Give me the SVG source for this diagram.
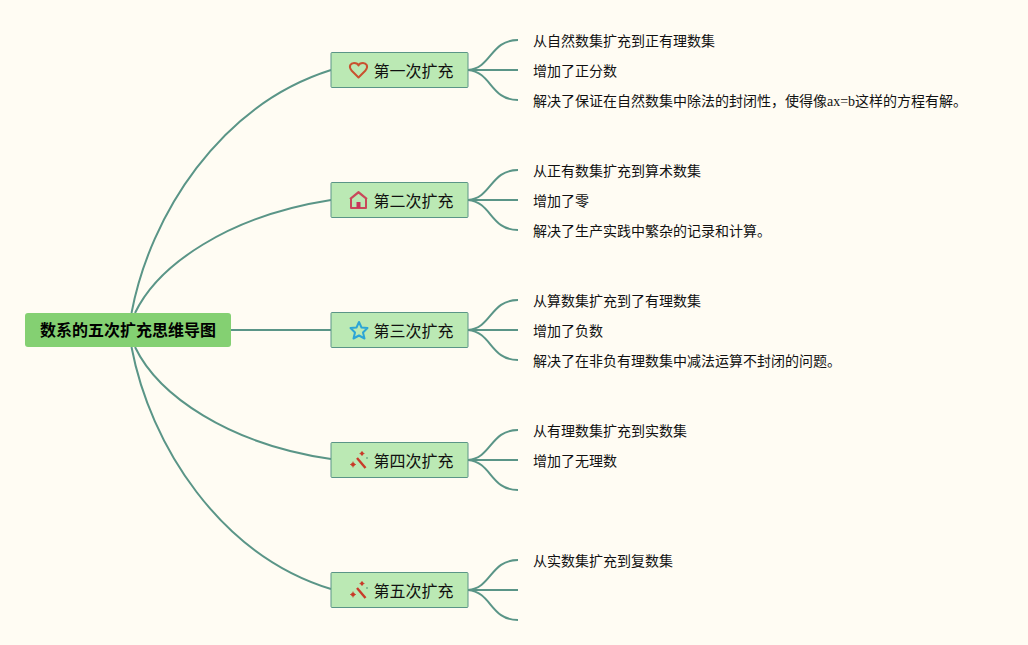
<svg xmlns="http://www.w3.org/2000/svg" width="1028" height="645" viewBox="0 0 1028 645">
<style>
text{font-family:"Liberation Serif","Noto Sans CJK SC",serif;fill:#111}
.leaf{font-size:14px}
.t{font-size:16px}
.root{font-size:16px;font-weight:700;font-family:"Noto Sans CJK SC",sans-serif;fill:#000}
.box{fill:#bbe9b4;stroke:#5a9587;stroke-width:1}
.c{fill:none;stroke:#5a9587;stroke-width:2}
.i{fill:none;stroke-width:2;stroke-linejoin:round}
</style>
<defs>
<g id="wand"><path d="M-2 -3L6.500 7" fill="none" stroke="#c93a2a" stroke-width="2.400"/><circle cx="3" cy="-7.500" r="1.700" fill="#c93a2a"/><circle cx="-6" cy="3.500" r="2" fill="#c93a2a"/><path d="M-9 3.500H-3M-6 0.500V6.500M3 -10V-5M0.500 -7.500H5.500" stroke="#c93a2a" stroke-width="0.800"/><circle cx="8" cy="-3" r="0.800" fill="#3a8a6a"/></g>
</defs>
<rect width="1028" height="645" fill="#fffcf3"/>
<g id="connectors">
<path class="c" d="M131.500 313C150 215 220 105 331 70"/>
<path class="c" d="M135 313C158 265 228 216 331 200"/>
<path class="c" d="M231 330H331"/>
<path class="c" d="M135 347C158 395 228 444 331 459"/>
<path class="c" d="M131.500 347C150 445 220 555 331 589"/>
<path class="c" d="M468 70C492 68 490 40 518 40M468 70H518M468 70C492 72 490 100 518 100"/>
<path class="c" d="M468 200C492 198 490 170 518 170M468 200H518M468 200C492 202 490 230 518 230"/>
<path class="c" d="M468 330C492 328 490 300 518 300M468 330H518M468 330C492 332 490 360 518 360"/>
<path class="c" d="M468 460C492 458 490 430 518 430M468 460H518M468 460C492 462 490 490 518 490"/>
<path class="c" d="M468 590C492 588 490 560 518 560M468 590H518M468 590C492 592 490 620 518 620"/>
</g>
<g id="root"><rect x="25" y="313" width="206" height="34" rx="3" fill="#84d072"/><text class="root" x="128" y="336" text-anchor="middle">数系的五次扩充思维导图</text></g>
<g id="n1"><rect class="box" x="331" y="52.500" width="137" height="35" rx="1"/>
<path class="i" stroke="#c9512f" d="M358.500 77.500L351.500 70.500C348 66 351 63 354 63C356 63 358 64 358.500 65.500C359 64 361 63 363 63C366 63 369 66 365.500 70.500Z"/>
<text class="t" x="373.500" y="77">第一次扩充</text></g>
<g id="n2"><rect class="box" x="331" y="182.500" width="137" height="35" rx="1"/>
<path class="i" stroke="#c9485a" d="M351 208V198.500L358.500 192.500L366 198.500V208ZM350 199L358.500 192L367 199"/><rect x="356.500" y="202" width="4" height="6" fill="#c9355a"/>
<text class="t" x="373.500" y="207">第二次扩充</text></g>
<g id="n3"><rect class="box" x="331" y="312.500" width="137" height="35" rx="1"/>
<path class="i" stroke="#2ca5d6" d="M359 322L361.500 327.500L367.500 328L363 332.500L364.500 338.500L359 335.500L353.500 338.500L355 332.500L350.500 328L356.500 327.500Z"/>
<text class="t" x="373.500" y="337">第三次扩充</text></g>
<g id="n4"><rect class="box" x="331" y="442.500" width="137" height="35" rx="1"/><use href="#wand" x="359" y="461"/><text class="t" x="373.500" y="467">第四次扩充</text></g>
<g id="n5"><rect class="box" x="331" y="572.500" width="137" height="35" rx="1"/><use href="#wand" x="359" y="591"/><text class="t" x="373.500" y="597">第五次扩充</text></g>
<g id="leaves">
<text class="leaf" x="533" y="46">从自然数集扩充到正有理数集</text>
<text class="leaf" x="533" y="76">增加了正分数</text>
<text class="leaf" x="533" y="106">解决了保证在自然数集中除法的封闭性，使得像ax=b这样的方程有解。</text>
<text class="leaf" x="533" y="176">从正有数集扩充到算术数集</text>
<text class="leaf" x="533" y="206">增加了零</text>
<text class="leaf" x="533" y="236">解决了生产实践中繁杂的记录和计算。</text>
<text class="leaf" x="533" y="306">从算数集扩充到了有理数集</text>
<text class="leaf" x="533" y="336">增加了负数</text>
<text class="leaf" x="533" y="366">解决了在非负有理数集中减法运算不封闭的问题。</text>
<text class="leaf" x="533" y="436">从有理数集扩充到实数集</text>
<text class="leaf" x="533" y="466">增加了无理数</text>
<text class="leaf" x="533" y="566">从实数集扩充到复数集</text>
</g>
</svg>
